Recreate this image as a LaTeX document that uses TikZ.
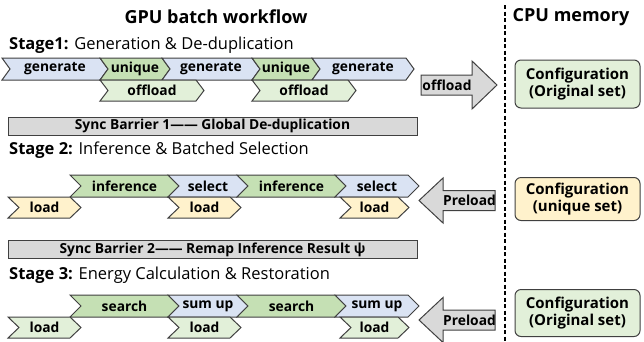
\documentclass[tikz,border=0pt]{standalone}
\usepackage{fontspec}
\setmainfont{Open Sans}
\usepackage{tikz}
\usetikzlibrary{arrows.meta}
\definecolor{lblue}{RGB}{218,227,243}
\definecolor{dgreen}{RGB}{197,224,180}
\definecolor{lgreen}{RGB}{226,240,217}
\definecolor{lyellow}{RGB}{255,242,204}
\definecolor{lgray}{RGB}{217,217,217}
\definecolor{edge}{RGB}{64,64,64}

\begin{document}
\begin{tikzpicture}[x=1pt,y=-1pt]
    \tikzstyle{chev}=[draw=edge,line width=1pt,line join=miter]
    \tikzstyle{label}=[font=\fontsize{13.8}{15}\selectfont\bfseries,inner sep=0pt]
    \tikzstyle{title}=[font=\fontsize{18}{20}\selectfont\bfseries]
    \tikzstyle{stage}=[font=\fontsize{16.5}{18}\selectfont,anchor=west,inner sep=0pt]
    \tikzstyle{barrier}=[draw=edge,line width=1pt,fill=lgray,minimum width=409pt,minimum height=18pt,inner sep=0pt,font=\fontsize{13.8}{15}\selectfont\bfseries]
    \tikzstyle{config}=[draw=edge,line width=1pt,rounded corners=6pt,minimum width=125pt,align=center,font=\fontsize{15}{17}\selectfont\bfseries]
    \useasboundingbox (0,0) rectangle (644,341);
    % Draw the titles
    \node[title] (gpu) at (216,17) {GPU batch workflow};
    \node[title] (cpu) at (571,17) {CPU memory};
    \draw[black,line width=1.3pt,dash pattern=on 4pt off 2.5pt] (505,5) -- (505,341);
    % Stage 1
    \node[stage] (st1) at (9,45) {\textbf{Stage1:} Generation \& De-duplication};
    \foreach \n/\l/\r/\c/\t in {a/2/100/lblue/generate, b/100/162/dgreen/unique, c/162/252/lblue/generate, d/252/312/dgreen/unique, e/312/406/lblue/generate}
    {
        \draw[chev,fill=\c] (\l,58) -- (\r,58) -- (\r+8,69) -- (\r,80) -- (\l,80) -- (\l+8,69) -- cycle;
        \node[label] (gen\n) at ({(\l+\r)/2+4},69) {\t};
    }
    \foreach \n/\l/\r in {a/100/196, b/252/348}
    {
        \draw[chev,fill=lgreen] (\l,80) -- (\r,80) -- (\r+8,90.5) -- (\r,101) -- (\l,101) -- (\l+8,90.5) -- cycle;
        \node[label] (off\n) at ({(\l+\r)/2+4},90.5) {offload};
    }
    \draw[chev,fill=lgray] (421,75) -- (472,75) -- (472,61) -- (497,85) -- (472,109) -- (472,95) -- (421,95) -- cycle;
    \node[label] (offbig) at (447,85) {offload};
    \node[config,fill=lgreen,minimum height=48pt] (cfg1) at (577.5,84) {Configuration\\(Original set)};
    % Sync barrier 1
    \node[barrier] (sync1) at (212.5,126) {Sync Barrier 1—— Global De-duplication};
    % Stage 2
    \node[stage] (st2) at (9,150) {\textbf{Stage 2:} Inference \& Batched Selection};
    \foreach \n/\l/\r/\c/\t in {a/70/168/dgreen/inference, b/168/237/lblue/select, c/237/335/dgreen/inference, d/335/408/lblue/select}
    {
        \draw[chev,fill=\c] (\l,175) -- (\r,175) -- (\r+11,186) -- (\r,197) -- (\l,197) -- (\l+11,186) -- cycle;
        \node[label] (inf\n) at ({(\l+\r)/2+5.5},186) {\t};
    }
    \foreach \n/\l/\r in {a/8/70, b/168/230, c/340/398}
    {
        \draw[chev,fill=lyellow] (\l,197) -- (\r,197) -- (\r+11,207.5) -- (\r,218) -- (\l,218) -- (\l+11,207.5) -- cycle;
        \node[label] (lda\n) at ({(\l+\r)/2+5.5},207.5) {load};
    }
    \node[config,fill=lyellow,minimum height=43pt] (cfg2) at (577.5,199) {Configuration\\(unique set)};
    % Sync barrier 2
    \node[barrier] (sync2) at (212.5,249.5) {Sync Barrier 2—— Remap Inference Result ψ};
    % Stage 3
    \node[stage] (st3) at (9,275) {\textbf{Stage 3:} Energy Calculation \& Restoration};
    \foreach \n/\l/\r/\c/\t in {a/70/168/dgreen/search, b/168/237/lblue/sum up, c/237/335/dgreen/search, d/335/408/lblue/sum up}
    {
        \draw[chev,fill=\c] (\l,295) -- (\r,295) -- (\r+11,306) -- (\r,317) -- (\l,317) -- (\l+11,306) -- cycle;
        \node[label] (sea\n) at ({(\l+\r)/2+5.5},306) {\t};
    }
    \foreach \n/\l/\r in {a/8/70, b/168/230, c/340/398}
    {
        \draw[chev,fill=lgreen] (\l,317) -- (\r,317) -- (\r+11,327.5) -- (\r,338) -- (\l,338) -- (\l+11,327.5) -- cycle;
        \node[label] (ldb\n) at ({(\l+\r)/2+5.5},327.5) {load};
    }
    \node[config,fill=lgreen,minimum height=47pt] (cfg3) at (577.5,313) {Configuration\\(Original set)};
    % Draw the preload arrows
    \foreach \n/\yc in {a/200.5, b/320}
    {
        \draw[chev,fill=lgray] (495,\yc-10) -- (443,\yc-10) -- (443,\yc-22.5) -- (419,\yc) -- (443,\yc+22.5) -- (443,\yc+10) -- (495,\yc+10) -- cycle;
        \node[label] (pre\n) at (469.5,\yc) {Preload};
    }
\end{tikzpicture}
\end{document}
